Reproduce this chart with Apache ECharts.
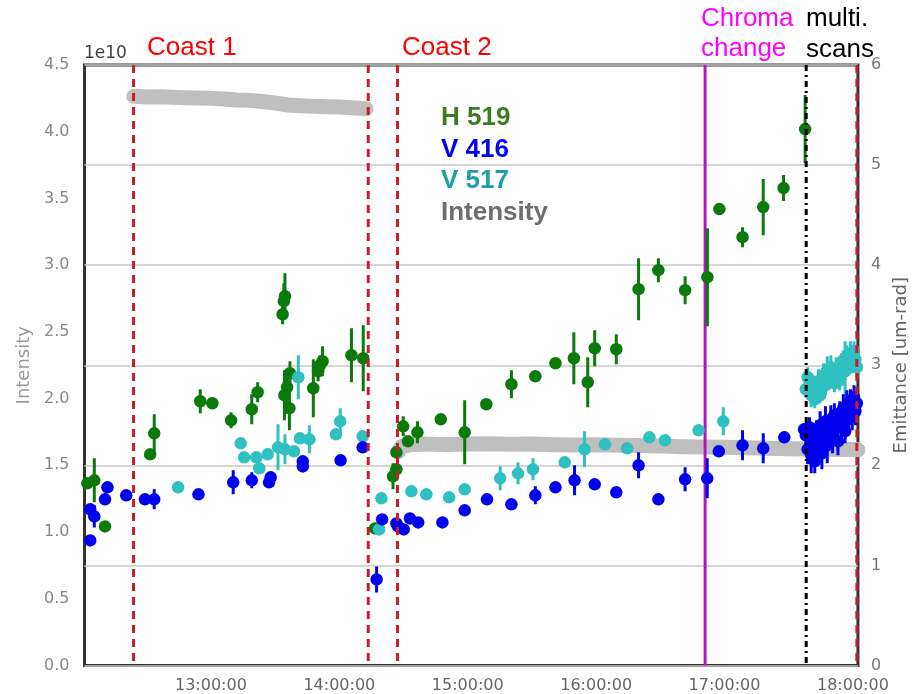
<!DOCTYPE html>
<html><head><meta charset="utf-8">
<script src="https://cdn.jsdelivr.net/npm/echarts@6/dist/echarts.min.js"></script>
<style>html,body{margin:0;padding:0;background:#fff}#c{width:918px;height:694px}</style>
</head><body><div id="c"></div>
<script>
// ---------- data ----------
const xTickLabels = ['13:00:00','14:00:00','15:00:00','16:00:00','17:00:00','18:00:00'];

const h519Times = ['12:02:15','12:05:30','12:10:30','12:31:35','12:33:30','12:55:00','13:00:40','13:09:25','13:19:05','13:21:50',
  '13:33:30','13:34:05','13:34:35','13:34:20','13:35:35','13:36:55','13:36:40','13:47:50','13:50:05','13:50:55','13:52:10',
  '14:05:40','14:11:10','14:16:40','14:25:05','14:26:40','14:26:40','14:29:50','14:32:05','14:36:30','14:47:25','14:58:35',
  '15:08:40','15:20:25','15:31:35','15:41:00','15:49:35','15:56:05','15:59:20','16:09:25','16:19:50','16:29:05','16:41:35',
  '16:52:00','16:57:35','17:08:25','17:18:05','17:27:35','17:37:40'];
const h519Values = [1.82,1.85,1.39,2.11,2.32,2.64,2.62,2.45,2.56,2.73,
  3.51,3.64,3.69,2.70,2.78,2.92,2.57,2.77,2.94,3.00,3.04,
  3.10,3.07,1.37,1.89,1.96,2.13,2.39,2.24,2.33,2.46,2.33,
  2.61,2.81,2.89,3.02,3.07,2.83,3.17,3.16,3.76,3.95,3.75,
  3.88,4.56,4.28,4.58,4.77,5.36];
const h519Errors = [0.03,0.22,0.03,0.05,0.19,0.12,0.03,0.08,0.15,0.10,
  0.10,0.18,0.23,0.25,0.18,0.12,0.22,0.29,0.10,0.10,0.15,
  0.27,0.33,0.03,0.13,0.05,0.05,0.10,0.03,0.11,0.05,0.32,
  0.03,0.14,0.03,0.03,0.26,0.25,0.18,0.15,0.31,0.12,0.14,
  0.49,0.05,0.10,0.28,0.13,0.34];

const v416Times = ['12:03:35','12:03:35','12:05:30','12:10:30','12:11:40','12:20:25','12:29:10','12:33:30','12:54:10','13:10:25',
  '13:19:05','13:27:10','13:27:55','13:42:55','13:42:55','14:00:35','14:10:55','14:17:25','14:20:00','14:26:40','14:27:25',
  '14:30:05','14:33:00','14:36:50','14:48:10','14:58:35','15:09:00','15:20:25','15:31:35','15:41:00','15:49:55','15:59:20',
  '16:09:25','16:19:50','16:29:05','16:41:35','16:51:55','16:57:20','17:08:25','17:18:05','17:27:55','17:37:10'];
const v416Values = [1.25,1.56,1.49,1.66,1.78,1.70,1.66,1.66,1.71,1.83,
  1.85,1.83,1.88,1.99,2.04,2.05,2.18,0.86,1.46,1.42,1.39,
  1.36,1.47,1.43,1.43,1.55,1.66,1.61,1.70,1.78,1.85,1.81,
  1.73,2.00,1.66,1.86,1.87,2.14,2.20,2.17,2.28,2.36];
const v416Errors = [0.03,0.05,0.11,0.03,0.03,0.03,0.03,0.10,0.03,0.12,
  0.08,0.03,0.03,0.06,0.03,0.05,0.03,0.13,0.03,0.03,0.03,
  0.03,0.03,0.03,0.03,0.03,0.03,0.03,0.09,0.03,0.15,0.03,
  0.03,0.13,0.03,0.12,0.20,0.03,0.15,0.15,0.03,0.03];

const v517Times = ['12:44:40','13:13:55','13:15:30','13:21:10','13:22:35','13:26:30','13:31:20','13:34:35','13:38:50','13:40:50',
  '13:41:35','13:46:00','13:58:25','14:00:25','14:10:55','14:18:35','14:19:40','14:33:40','14:40:40','14:51:20','14:58:35',
  '15:15:10','15:23:30','15:30:30','15:45:20','15:54:35','16:04:10','16:14:30','16:24:55','16:32:10','16:47:55','16:59:25'];
const v517Values = [1.78,2.22,2.08,2.08,1.97,2.11,2.18,2.16,2.14,2.88,
  2.27,2.26,2.31,2.44,2.29,1.36,1.67,1.74,1.71,1.68,1.76,
  1.87,1.92,1.96,2.03,2.16,2.21,2.17,2.28,2.25,2.35,2.44];
const v517Errors = [0.03,0.03,0.03,0.05,0.03,0.03,0.23,0.15,0.03,0.22,
  0.03,0.14,0.03,0.13,0.03,0.03,0.03,0.03,0.03,0.03,0.03,
  0.12,0.11,0.11,0.03,0.18,0.03,0.03,0.03,0.03,0.03,0.14];

// multi-scan period (17:38 onwards)
const multiScanTimes = ['17:38:00','17:38:50','17:39:40','17:40:30','17:41:20','17:42:10','17:43:00','17:43:50','17:44:40','17:45:30',
  '17:46:20','17:47:10','17:48:00','17:48:50','17:49:40','17:50:30','17:51:20','17:52:10','17:53:00','17:53:50',
  '17:54:40','17:55:30','17:56:20','17:57:10','17:58:00','17:58:50','17:59:40','18:00:30','18:01:10','18:01:50'];
const v416MultiValues = [2.30,2.16,2.38,2.10,2.25,2.04,2.30,2.18,2.40,2.12,2.28,2.44,2.20,2.35,2.46,2.28,2.50,2.38,2.24,2.52,
  2.42,2.57,2.34,2.60,2.46,2.64,2.50,2.68,2.54,2.62];
const v416MultiErrors = [0.12,0.15,0.10,0.18,0.14,0.12,0.15,0.10,0.14,0.16,0.12,0.15,0.18,0.12,0.14,0.16,0.12,0.15,0.14,0.12,
  0.15,0.14,0.12,0.15,0.14,0.12,0.15,0.12,0.14,0.12];
const v517MultiValues = [2.76,2.88,2.80,2.70,2.80,2.66,2.76,2.84,2.70,2.80,2.90,2.80,2.95,2.86,2.98,2.88,2.82,2.96,2.92,2.85,
  2.98,3.05,2.94,3.08,3.00,3.12,3.02,3.14,3.06,2.98];
const v517MultiErrors = [0.08,0.10,0.08,0.12,0.10,0.09,0.10,0.12,0.08,0.10,0.12,0.10,0.14,0.10,0.12,0.10,0.09,0.12,0.10,0.10,
  0.14,0.10,0.30,0.12,0.10,0.12,0.10,0.10,0.10,0.10];

// beam intensity, units of 1e10
const intensityTimes = ['12:24:00','12:30:00','12:36:00','12:42:00','12:48:00','12:54:00','13:00:00','13:06:00','13:12:00','13:18:00',
  '13:24:00','13:30:00','13:36:00','13:42:00','13:48:00','13:54:00','14:00:00','14:06:00','14:12:30','14:20:00',
  '14:27:30','14:29:00','14:33:00','14:40:00','14:50:00','15:00:00','15:10:00','15:20:00','15:30:00','15:40:00',
  '15:50:00','16:00:00','16:10:00','16:20:00','16:30:00','16:40:00','16:50:00','17:00:00','17:10:00','17:20:00',
  '17:30:00','17:40:00','17:50:00','18:00:00','18:02:20'];
const intensityValues = [4.265,4.26,4.262,4.258,4.255,4.252,4.25,4.245,4.238,4.235,
  4.226,4.215,4.20,4.195,4.19,4.188,4.185,4.18,4.172,null,
  1.60,1.64,1.655,1.66,1.655,1.66,1.662,1.658,1.66,1.655,
  1.652,1.655,1.65,1.648,1.645,1.64,1.638,1.635,1.632,1.628,
  1.625,1.622,1.62,1.618,1.616];

const coastLineTimes = ['12:23:50','14:13:30','14:27:10','18:01:50'];
const chromaLineTimes = ['16:50:55'];
const multiScanLineTimes = ['17:38:10'];

// ---------- helpers ----------
const toH = s => { const p = s.split(':').map(Number); return p[0] + p[1]/60 + (p[2]||0)/3600; };
const xTickValues = xTickLabels.map(toH);
const pts = (times, vals) => times.map((t,i) => [toH(t), vals[i]]);
const bars = (times, vals, errs) => times.map((t,i) => [toH(t), vals[i]-errs[i], vals[i]+errs[i]]);

const GREEN = '#0b7a0b', BLUE = '#0000f0', CYAN = '#2fc0c0';
const FONT = 'DejaVu Sans';

function errorBarItem(color) {
  return (params, api) => {
    const a = api.coord([api.value(0), api.value(1)]);
    const b = api.coord([api.value(0), api.value(2)]);
    return {type:'line', shape:{x1:a[0],y1:a[1],x2:b[0],y2:b[1]}, style:{stroke:color, lineWidth:3}};
  };
}
function vLineItem(color, dash) {
  return (params, api) => {
    const x = api.coord([api.value(0), 0])[0];
    const cs = params.coordSys;
    return {type:'line', shape:{x1:x,y1:cs.y,x2:x,y2:cs.y+cs.height},
      style:{stroke:color, lineWidth:3, lineDash:dash}};
  };
}
const errSeries = (data, color, z) => ({type:'custom', yAxisIndex:1, data, encode:{x:0,y:[1,2]},
  renderItem: errorBarItem(color), z, silent:true, clip:true});
const dotSeries = (data, color, z) => ({type:'scatter', yAxisIndex:1, data, symbolSize:12.5,
  itemStyle:{color, opacity:1}, z, silent:true});
const lineSeries = (times, color, dash, z) => ({type:'custom', yAxisIndex:1, data: times.map(t => [toH(t), 0]),
  encode:{x:0,y:1}, renderItem: vLineItem(color, dash), z, silent:true});

const chart = echarts.init(document.getElementById('c'));
// text placed by its vertical middle
const txt = (text, x, y, color, font) => ({type:'text', x, y,
  style:{text, fill:color, font, align:'left', verticalAlign:'middle'}, z:100});

chart.setOption({
  animation:false,
  backgroundColor:'#fff',
  grid:{left:84.5, right:56.5, top:65, bottom:28.5, show:true, borderColor:'#333', borderWidth:3},
  xAxis:{type:'value', min:toH('12:00:55'), max:toH('18:02:20'),
    axisLine:{show:false}, axisTick:{show:false}, splitLine:{show:false},
    axisLabel:{customValues:xTickValues, color:'#666', fontSize:16, fontFamily:FONT, margin:12,
      formatter: v => { const i = xTickValues.findIndex(t => Math.abs(t-v) < 1e-6); return i >= 0 ? xTickLabels[i] : ''; }}},
  yAxis:[
    {type:'value', position:'left', min:0, max:4.5, interval:0.5,
      axisLine:{show:false}, axisTick:{show:false}, splitLine:{show:false},
      axisLabel:{formatter: v => v.toFixed(1), color:'#888', fontSize:16, fontFamily:FONT, margin:15},
      name:'Intensity', nameLocation:'middle', nameGap:48, nameRotate:90,
      nameTextStyle:{color:'#999', fontSize:18, fontFamily:FONT}},
    {type:'value', position:'right', min:0, max:6, interval:1,
      axisLine:{show:false}, axisTick:{show:false},
      splitLine:{show:true, lineStyle:{color:'#c8c8c8', width:1.5}},
      axisLabel:{color:'#777', fontSize:16, fontFamily:FONT, margin:13},
      name:'Emittance [um-rad]', nameLocation:'middle', nameGap:31, nameRotate:90,
      nameTextStyle:{color:'#666', fontSize:18, fontFamily:FONT}}
  ],
  series:[
    {type:'line', yAxisIndex:0, data:pts(intensityTimes, intensityValues), showSymbol:false, connectNulls:false,
      lineStyle:{color:'#bfbfbf', width:15, cap:'round', join:'round'}, z:1, silent:true},
    lineSeries(chromaLineTimes, '#b015c0', null, 2),
    errSeries(bars(h519Times, h519Values, h519Errors), GREEN, 3),
    dotSeries(pts(h519Times, h519Values), GREEN, 4),
    errSeries(bars(v517Times.concat(multiScanTimes), v517Values.concat(v517MultiValues), v517Errors.concat(v517MultiErrors)), CYAN, 5),
    dotSeries(pts(v517Times.concat(multiScanTimes), v517Values.concat(v517MultiValues)), CYAN, 6),
    errSeries(bars(v416Times.concat(multiScanTimes), v416Values.concat(v416MultiValues), v416Errors.concat(v416MultiErrors)), BLUE, 7),
    dotSeries(pts(v416Times.concat(multiScanTimes), v416Values.concat(v416MultiValues)), BLUE, 8),
    lineSeries(coastLineTimes, '#cc1a2e', [8,6], 9),
    lineSeries(multiScanLineTimes, '#000', [6,4,2,4], 9)
  ],
  graphic:[
    txt('1e10', 84, 54, '#444', '17px "DejaVu Sans"'),
    txt('Coast 1', 147, 48, '#ff0000', '26px "Liberation Sans"'),
    txt('Coast 2', 402, 48, '#ff0000', '26px "Liberation Sans"'),
    txt('Chroma', 701, 18.5, '#ff00ff', '26px "Liberation Sans"'),
    txt('change', 701, 49, '#ff00ff', '26px "Liberation Sans"'),
    txt('multi.', 806, 18.5, '#000', '26px "Liberation Sans"'),
    txt('scans', 806, 50, '#000', '26px "Liberation Sans"'),
    txt('H 519', 441, 117.5, '#3b7d1f', 'bold 26px "Liberation Sans"'),
    txt('V 416', 441, 149.5, '#0000ff', 'bold 26px "Liberation Sans"'),
    txt('V 517', 441, 181, '#1aa0a5', 'bold 26px "Liberation Sans"'),
    txt('Intensity', 441, 213, '#6e6e6e', 'bold 26px "Liberation Sans"')
  ]
});
</script></body></html>
